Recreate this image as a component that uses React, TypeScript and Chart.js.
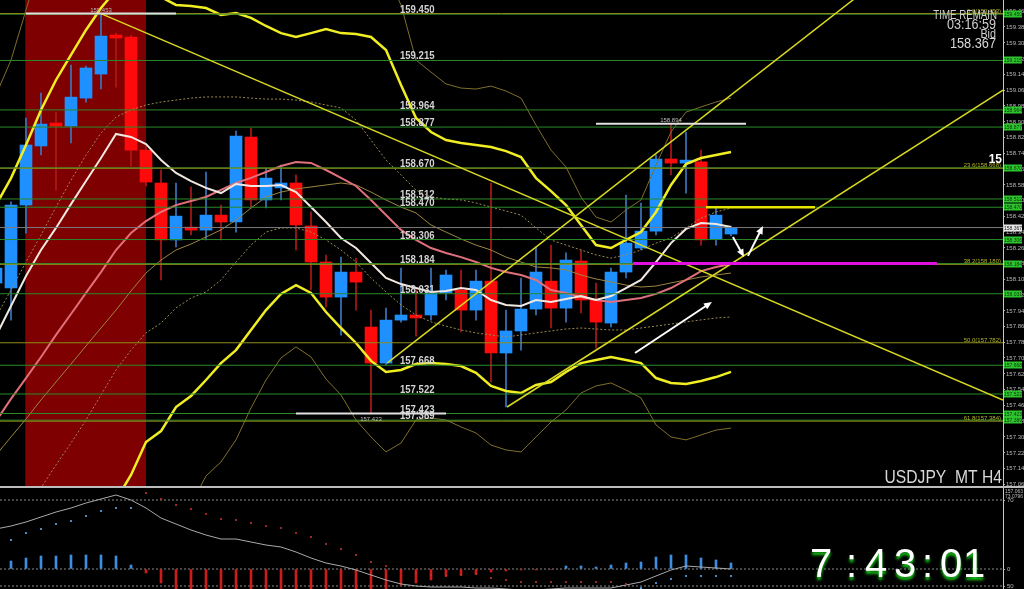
import React, { useEffect, useRef } from 'react';
import { Chart, registerables } from 'chart.js';

Chart.register(...registerables);

// ---------------- data (bar index starts at -1) ----------------
const FIRST_BAR = -1;

const opens = [158.085, 158.060, 158.481, 158.781, 158.892, 158.882, 159.024, 159.146, 159.339, 159.334, 158.760, 158.593, 158.304, 158.364, 158.354, 158.430, 158.395, 158.826, 158.507, 158.568, 158.593, 158.375, 158.192, 158.014, 158.141, 157.862, 157.679, 157.897, 157.918, 157.923, 158.035, 158.050, 157.948, 158.095, 157.730, 157.842, 157.953, 158.095, 157.958, 158.197, 157.999, 157.882, 158.141, 158.263, 158.349, 158.715, 158.694, 158.700, 158.309, 158.334];
const highs = [158.192, 158.497, 158.923, 159.050, 158.953, 159.192, 159.187, 159.453, 159.354, 159.344, 158.781, 158.659, 158.593, 158.573, 158.649, 158.481, 158.857, 158.872, 158.669, 158.684, 158.634, 158.446, 158.227, 158.217, 158.212, 157.948, 157.958, 158.161, 158.050, 158.161, 158.151, 158.151, 158.151, 158.593, 157.948, 158.111, 158.268, 158.278, 158.238, 158.253, 158.085, 158.161, 158.532, 158.491, 158.735, 158.894, 158.852, 158.760, 158.466, 158.375];
const lows = [158.050, 157.897, 158.339, 158.735, 158.557, 158.796, 159.004, 159.070, 159.080, 158.679, 158.578, 158.101, 158.268, 158.329, 158.304, 158.304, 158.344, 158.466, 158.466, 158.507, 158.253, 158.050, 157.963, 157.821, 157.948, 157.423, 157.669, 157.887, 157.816, 157.897, 157.999, 157.837, 157.897, 157.583, 157.456, 157.745, 157.923, 157.857, 157.887, 157.933, 157.755, 157.862, 158.111, 158.253, 158.329, 158.634, 158.542, 158.278, 158.278, 158.324];
const closes = [158.161, 158.481, 158.786, 158.892, 158.882, 159.029, 159.177, 159.339, 159.329, 158.760, 158.598, 158.304, 158.425, 158.354, 158.430, 158.395, 158.831, 158.507, 158.618, 158.593, 158.380, 158.192, 158.014, 158.141, 158.090, 157.679, 157.897, 157.923, 157.908, 158.035, 158.126, 157.948, 158.095, 157.730, 157.842, 157.953, 158.141, 157.958, 158.202, 157.999, 157.887, 158.141, 158.288, 158.349, 158.715, 158.694, 158.705, 158.304, 158.430, 158.367];

const maFast = [157.816, 157.969, 158.121, 158.253, 158.365, 158.486, 158.603, 158.720, 158.842, 158.827, 158.791, 158.710, 158.644, 158.603, 158.568, 158.542, 158.588, 158.578, 158.578, 158.583, 158.547, 158.471, 158.395, 158.314, 158.263, 158.187, 158.111, 158.080, 158.060, 158.040, 158.045, 158.060, 158.050, 157.999, 157.974, 157.969, 157.999, 157.989, 158.004, 158.019, 157.999, 158.019, 158.060, 158.101, 158.192, 158.288, 158.360, 158.390, 158.385, 158.370];
const maSlow = [157.385, 157.497, 157.603, 157.710, 157.822, 157.928, 158.035, 158.141, 158.253, 158.339, 158.400, 158.446, 158.481, 158.502, 158.522, 158.558, 158.593, 158.619, 158.649, 158.679, 158.700, 158.695, 158.659, 158.619, 158.578, 158.507, 158.431, 158.355, 158.304, 158.263, 158.238, 158.217, 158.192, 158.162, 158.141, 158.126, 158.101, 158.050, 158.035, 158.014, 157.999, 157.989, 157.999, 158.009, 158.030, 158.060, 158.101, 158.146, 158.167, 158.182];
const maTrend = [157.212, 157.304, 157.395, 157.492, 157.583, 157.674, 157.766, 157.857, 157.948, 158.045, 158.136, 158.202, 158.253, 158.283, 158.319, 158.355, 158.405, 158.466, 158.522, 158.547, 158.563, 158.573, 158.583, 158.593, 158.583, 158.547, 158.507, 158.471, 158.441, 158.380, 158.344, 158.309, 158.278, 158.253, 158.217, 158.192, 158.167, 158.162, 158.152, 158.126, 158.106, 158.091, 158.075, 158.065, 158.070, 158.086, 158.101, 158.116, 158.126, 158.136];
const bandUpper = [158.481, 158.618, 158.786, 158.964, 159.116, 159.243, 159.370, 159.481, 159.573, 159.624, 159.598, 159.537, 159.497, 159.491, 159.481, 159.446, 159.456, 159.431, 159.390, 159.354, 159.334, 159.354, 159.375, 159.354, 159.349, 159.334, 159.268, 159.090, 158.923, 158.852, 158.811, 158.796, 158.786, 158.776, 158.755, 158.725, 158.618, 158.552, 158.481, 158.380, 158.278, 158.263, 158.304, 158.344, 158.446, 158.583, 158.689, 158.720, 158.735, 158.750];
const bandLower = [156.273, 156.375, 156.476, 156.578, 156.679, 156.756, 156.832, 156.908, 156.984, 157.111, 157.278, 157.334, 157.456, 157.512, 157.593, 157.679, 157.745, 157.847, 157.948, 158.030, 158.075, 158.035, 157.938, 157.857, 157.781, 157.690, 157.634, 157.644, 157.674, 157.679, 157.674, 157.664, 157.629, 157.563, 157.537, 157.527, 157.568, 157.583, 157.634, 157.679, 157.695, 157.710, 157.695, 157.679, 157.603, 157.578, 157.573, 157.588, 157.608, 157.634];
const envUpper = [159.040, 159.217, 159.471, 159.725, 159.95, 160.05, 160.12, 160.18, 160.20, 160.15, 160.10, 160.05, 160.00, 159.98, 159.97, 159.98, 159.96, 159.93, 159.90, 159.88, 159.87, 159.88, 159.86, 159.84, 159.80, 159.75, 159.66, 159.497, 159.217, 159.156, 159.096, 159.075, 159.070, 159.085, 159.060, 159.024, 158.887, 158.760, 158.674, 158.522, 158.420, 158.395, 158.456, 158.507, 158.684, 158.852, 158.953, 158.979, 159.004, 159.024];
const envLower = [155.969, 156.020, 156.070, 156.121, 156.172, 156.223, 156.273, 156.375, 156.476, 156.578, 156.654, 156.730, 156.781, 156.959, 157.106, 157.177, 157.289, 157.451, 157.593, 157.705, 157.761, 157.710, 157.598, 157.517, 157.390, 157.304, 157.228, 157.273, 157.390, 157.400, 157.390, 157.355, 157.324, 157.263, 157.238, 157.228, 157.304, 157.380, 157.441, 157.527, 157.563, 157.578, 157.542, 157.502, 157.365, 157.304, 157.289, 157.314, 157.339, 157.349];
const dotUpper = [157.913, 158.050, 158.192, 158.329, 158.471, 158.608, 158.735, 158.847, 158.928, 158.964, 158.989, 159.004, 159.014, 159.024, 159.030, 159.030, 159.030, 159.024, 159.019, 159.019, 159.014, 159.004, 158.989, 158.974, 158.913, 158.811, 158.710, 158.634, 158.557, 158.522, 158.512, 158.507, 158.492, 158.471, 158.451, 158.430, 158.365, 158.304, 158.278, 158.253, 158.228, 158.212, 158.228, 158.253, 158.288, 158.314, 158.365, 158.415, 158.446, 158.466];
const dotLower = [156.679, 156.832, 156.933, 157.045, 157.162, 157.273, 157.390, 157.517, 157.644, 157.745, 157.832, 157.882, 157.959, 158.009, 158.040, 158.101, 158.192, 158.278, 158.344, 158.365, 158.365, 158.344, 158.304, 158.253, 158.192, 158.111, 158.040, 157.974, 157.923, 157.888, 157.867, 157.847, 157.832, 157.822, 157.811, 157.822, 157.832, 157.842, 157.852, 157.857, 157.852, 157.847, 157.847, 157.857, 157.867, 157.877, 157.888, 157.898, 157.908, 157.913];

const histValues = [0.06, 0.08, 0.11, 0.13, 0.13, 0.14, 0.14, 0.14, 0.13, 0.04, -0.04, -0.14, -0.22, -0.25, -0.26, -0.27, -0.26, -0.25, -0.25, -0.24, -0.24, -0.25, -0.26, -0.25, -0.24, -0.24, -0.22, -0.16, -0.14, -0.11, -0.07, -0.06, -0.05, -0.03, -0.02, -0.01, -0.01, -0.005, 0.03, 0.03, 0.02, 0.04, 0.06, 0.07, 0.12, 0.14, 0.14, 0.11, 0.09, 0.06];
const signalValues = [0.40, 0.43, 0.47, 0.52, 0.57, 0.61, 0.66, 0.70, 0.74, 0.69, 0.61, 0.51, 0.45, 0.39, 0.34, 0.30, 0.30, 0.27, 0.24, 0.22, 0.17, 0.11, 0.06, 0.03, -0.01, -0.06, -0.11, -0.15, -0.17, -0.18, -0.18, -0.18, -0.19, -0.19, -0.20, -0.21, -0.21, -0.20, -0.19, -0.19, -0.19, -0.19, -0.16, -0.13, -0.07, -0.01, 0.03, 0.02, 0.01, 0.00];
const dotsUp = [null, 0.29, 0.36, 0.40, 0.45, 0.48, 0.53, 0.58, 0.61, 0.61, null, null, null, null, null, null, null, null, null, null, null, null, null, null, null, null, null, null, null, null, null, null, null, null, null, null, null, null, null, null, null, null, null, -0.19, -0.14, -0.10, -0.07, -0.07, -0.07, -0.07];
const dotsDown = [null, null, null, null, null, null, null, null, null, null, 0.76, 0.70, 0.64, 0.60, 0.55, 0.50, 0.49, 0.46, 0.43, 0.41, 0.36, 0.32, 0.25, 0.20, 0.14, 0.07, 0.03, -0.01, -0.04, -0.06, -0.07, -0.06, -0.05, -0.09, -0.11, -0.13, -0.13, -0.13, -0.13, -0.13, -0.13, -0.13, -0.15, null, null, null, null, null, null, null];

const PRICE_TICKS = [157.065, 157.145, 157.225, 157.305, 157.385, 157.465, 157.545, 157.625, 157.705, 157.785, 157.865, 157.945, 158.025, 158.105, 158.185, 158.265, 158.345, 158.425, 158.505, 158.585, 158.665, 158.745, 158.825, 158.905, 158.985, 159.065, 159.145, 159.225, 159.305, 159.385, 159.465];
const LEVELS = [159.450, 159.215, 158.964, 158.877, 158.670, 158.512, 158.470, 158.306, 158.184, 158.031, 157.668, 157.522, 157.423, 157.389];
const FIB_LEVELS = [159.453, 158.668, 158.180, 157.782, 157.384];
const FIB_NAMES = ['0.0', '23.6', '38.2', '50.0', '61.8'];
const BID = 158.367;
const HIGHLIGHT_BARS = [0.95, 9.0];
const EXTREMES = [
  { bar: 6, price: 159.453, below: false },
  { bar: 24, price: 157.423, below: true },
  { bar: 44, price: 158.894, below: false },
];
const TRENDLINES = [
  [6, 159.453, 66.13, 157.491],
  [25.07, 157.679, 57, 159.574],
  [33.07, 157.456, 66.13, 159.065],
];
const MAGENTA_SEG = [41.47, 61.73, 158.184];
const YELLOW_SEG = [46.33, 53.6, 158.470];
const ARROWS = [
  [41.6, 157.730, 46.73, 157.989],
  [48.13, 158.319, 48.87, 158.217],
  [49.13, 158.223, 50.13, 158.375],
];
const LABEL_BAR = 25.93;
const SUB_TICKS = [0.69, 0, -0.17];
const SUB_TICK_LABELS = ['70', '0', '50'];

const X_MIN = -0.733;
const X_MAX = 66.133;
const Y_MIN = 157.055;
const Y_MAX = 159.522;
const SUB_MIN = -0.20;
const SUB_MAX = 0.81;

// ---------------- helpers ----------------
const FONT = '"Liberation Sans", Arial, sans-serif';
const bars = opens.map((_, k) => k + FIRST_BAR);
const pts = (arr: any[]) => arr.map((v, k) => ({ x: bars[k], y: v }));

function drawText(ctx: any, s: string, x: number, y: number, size: number, color: string, align: string, opts: any = {}) {
  ctx.save();
  ctx.font = `${opts.bold ? 'bold ' : ''}${size}px ${FONT}`;
  ctx.fillStyle = color;
  ctx.textAlign = align;
  ctx.textBaseline = 'alphabetic';
  if (opts.shadow) {
    ctx.shadowColor = opts.shadow;
    ctx.shadowBlur = 3;
    ctx.shadowOffsetY = 3;
  }
  ctx.translate(x, y);
  ctx.scale(opts.sx ?? 1, 1);
  ctx.fillText(s, 0, 0);
  ctx.restore();
}

function drawArrow(ctx: any, x0: number, y0: number, x1: number, y1: number) {
  const a = Math.atan2(y1 - y0, x1 - x0);
  const c = Math.cos(a), s = Math.sin(a);
  ctx.beginPath();
  ctx.moveTo(x0, y0);
  ctx.lineTo(x1 - 5 * c, y1 - 5 * s);
  ctx.stroke();
  ctx.beginPath();
  ctx.moveTo(x1, y1);
  ctx.lineTo(x1 - 8 * c + 3.5 * s, y1 - 8 * s - 3.5 * c);
  ctx.lineTo(x1 - 8 * c - 3.5 * s, y1 - 8 * s + 3.5 * c);
  ctx.closePath();
  ctx.fill();
}

const lineDs = (data: any[], color: string, width: number, order: number, extra: any = {}) => ({
  type: 'line',
  data,
  borderColor: color,
  borderWidth: width,
  pointRadius: 0,
  tension: 0,
  fill: false,
  order,
  ...extra,
});

const yAxis = (min: number, max: number, values: number[]) => ({
  type: 'linear',
  position: 'right',
  min,
  max,
  afterBuildTicks: (s: any) => { s.ticks = values.map((v) => ({ value: v })); },
  afterFit: (s: any) => { s.width = 21; },
  ticks: { display: false },
  grid: { display: true, drawOnChartArea: false, drawTicks: true, tickLength: 2, color: '#aaaaaa' },
  border: { display: true, color: '#c8c8c8', width: 1 },
});

const baseOptions = (yScale: any) => ({
  responsive: false,
  animation: false,
  devicePixelRatio: 1,
  events: [],
  layout: { padding: 0, autoPadding: false },
  plugins: { legend: { display: false }, tooltip: { enabled: false } },
  scales: {
    x: { type: 'linear', min: X_MIN, max: X_MAX, offset: false, display: false },
    y: yScale,
  },
});

const mainPlugin = {
  id: 'mainDeco',
  beforeDatasetsDraw(chart: any) {
    const { ctx, chartArea, scales } = chart;
    const x0 = scales.x.getPixelForValue(HIGHLIGHT_BARS[0]);
    const x1 = scales.x.getPixelForValue(HIGHLIGHT_BARS[1]);
    ctx.save();
    ctx.fillStyle = '#7f0000';
    ctx.fillRect(x0, chartArea.top, x1 - x0, chartArea.bottom - chartArea.top);
    ctx.restore();
  },
  afterDatasetsDraw(chart: any) {
    const { ctx, chartArea, scales } = chart;
    const xs = scales.x, ys = scales.y;
    EXTREMES.forEach((e) => {
      const px = xs.getPixelForValue(e.bar);
      const py = ys.getPixelForValue(e.price);
      drawText(ctx, e.price.toFixed(3), px, e.below ? py + 7 : py - 2, 6, '#bdbdbd', 'center');
    });
    LEVELS.forEach((p) => {
      const py = ys.getPixelForValue(p);
      drawText(ctx, p.toFixed(3), xs.getPixelForValue(LABEL_BAR), py - 1, 11, '#d4d4d4', 'left', { bold: true, sx: 0.87 });
    });
    FIB_LEVELS.forEach((p, i) => {
      const py = ys.getPixelForValue(p);
      drawText(ctx, `${FIB_NAMES[i]}(${p.toFixed(3)})`, chartArea.right - 2, py - 1, 6, '#b4b428', 'right');
    });
    ctx.save();
    ctx.strokeStyle = '#ffffff';
    ctx.fillStyle = '#ffffff';
    ctx.lineWidth = 2;
    ARROWS.forEach((a) => {
      drawArrow(ctx, xs.getPixelForValue(a[0]), ys.getPixelForValue(a[1]), xs.getPixelForValue(a[2]), ys.getPixelForValue(a[3]));
    });
    ctx.restore();
  },
  afterDraw(chart: any) {
    const { ctx, chartArea, scales } = chart;
    const ys = scales.y;
    const bx = chartArea.right + 1;
    PRICE_TICKS.forEach((v) => {
      drawText(ctx, v.toFixed(3), chartArea.right + 3, ys.getPixelForValue(v) + 2, 6, '#b8b8b8', 'left');
    });
    LEVELS.forEach((p) => {
      const py = Math.round(ys.getPixelForValue(p));
      ctx.fillStyle = '#2fc42f';
      ctx.fillRect(bx, py - 3.5, 18, 7);
      drawText(ctx, p.toFixed(3), bx + 9, py + 2, 5, '#063806', 'center');
    });
    const by = Math.round(ys.getPixelForValue(BID));
    ctx.fillStyle = '#e6e6e6';
    ctx.fillRect(bx, by - 3.5, 18, 7);
    drawText(ctx, BID.toFixed(3), bx + 9, by + 2, 5, '#222', 'center');

    drawText(ctx, 'TIME REMAIN', 997, 19, 12, '#cfcfcf', 'right', { sx: 0.81 });
    drawText(ctx, '03:16:59', 996, 29, 14, '#cfcfcf', 'right', { sx: 0.9 });
    drawText(ctx, 'Bid', 996, 38, 12, '#cfcfcf', 'right', { sx: 0.9 });
    drawText(ctx, '158.367', 996, 48, 15, '#d8d8d8', 'right', { sx: 0.85 });
    drawText(ctx, '15', 1002, 163, 12, '#ffffff', 'right', { bold: true });
    drawText(ctx, 'USDJPY_MT H4', 1002, 483, 18, '#d8d8d8', 'right', { sx: 0.87 });
  },
};

const CLOCK_GLYPHS: any[] = [['7', 810], [':', 846], ['4', 865], ['3', 894], [':', 922], ['0', 940], ['1', 963]];

const subPlugin = {
  id: 'subDeco',
  afterDraw(chart: any) {
    const { ctx, chartArea, scales } = chart;
    SUB_TICKS.forEach((v, i) => {
      drawText(ctx, SUB_TICK_LABELS[i], chartArea.right + 4, scales.y.getPixelForValue(v) + 2, 6, '#b8b8b8', 'left');
    });
    CLOCK_GLYPHS.forEach(([g, x]) => drawText(ctx, g, x, 89, 40, '#ffffff', 'left', { shadow: '#19d219' }));
    drawText(ctx, '157.063', chartArea.right + 2, 5, 5, '#bbbbbb', 'left');
    drawText(ctx, '73.0796', chartArea.right + 2, 10, 5, '#bbbbbb', 'left');
  },
};

export default function App() {
  const mainRef = useRef<HTMLCanvasElement | null>(null);
  const subRef = useRef<HTMLCanvasElement | null>(null);

  useEffect(() => {
    const up = (k: number) => closes[k] >= opens[k];
    const bodyColors = opens.map((_, k) => (up(k) ? '#1e90ff' : '#ff0a0a'));
    const wickColors = opens.map((_, k) => (up(k) ? '#3a78c0' : '#b01818'));

    const datasets: any[] = [
      {
        type: 'bar',
        data: lows.map((l, k) => ({ x: bars[k], y: [l, highs[k]] })),
        backgroundColor: wickColors,
        barThickness: 1,
        grouped: false,
        borderWidth: 0,
        order: 100,
      },
      {
        type: 'bar',
        data: opens.map((o, k) => ({ x: bars[k], y: [o, closes[k]] })),
        backgroundColor: bodyColors,
        barThickness: 12,
        minBarLength: 3,
        grouped: false,
        borderWidth: 0,
        order: 90,
      },
      lineDs(pts(envUpper), '#7e6f2c', 1, 60),
      lineDs(pts(envLower), '#7e6f2c', 1, 60),
      lineDs(pts(dotUpper), '#9a8a50', 1, 60, { borderDash: [2, 2] }),
      lineDs(pts(dotLower), '#9a8a50', 1, 60, { borderDash: [2, 2] }),
      lineDs(pts(maTrend), '#9c8540', 1, 58),
      lineDs(pts(maSlow), '#e0707a', 2, 57),
      lineDs(pts(maFast), '#f2e8e2', 2, 56),
      lineDs(pts(bandUpper), '#f0ee22', 2.5, 55),
      lineDs(pts(bandLower), '#f0ee22', 2.5, 55),
      ...LEVELS.map((p) => lineDs([{ x: X_MIN, y: p }, { x: X_MAX, y: p }], '#2a8a2a', 1, 40)),
      ...FIB_LEVELS.map((p) => lineDs([{ x: X_MIN, y: p }, { x: X_MAX, y: p }], '#8e8e1c', 1, 35)),
      lineDs([{ x: X_MIN, y: BID }, { x: X_MAX, y: BID }], '#7a7a7a', 1, 34),
      ...TRENDLINES.map((t) => lineDs([{ x: t[0], y: t[1] }, { x: t[2], y: t[3] }], '#d8d820', 1.5, 20)),
      lineDs([{ x: MAGENTA_SEG[0], y: MAGENTA_SEG[2] }, { x: MAGENTA_SEG[1], y: MAGENTA_SEG[2] }], '#e010e0', 3, 15),
      lineDs([{ x: YELLOW_SEG[0], y: YELLOW_SEG[2] }, { x: YELLOW_SEG[1], y: YELLOW_SEG[2] }], '#e6e600', 2.5, 15),
      ...EXTREMES.map((e) => lineDs([{ x: e.bar - 5, y: e.price }, { x: e.bar + 5, y: e.price }], '#e0e0e0', 2, 10)),
    ];

    const main = new Chart(mainRef.current as any, {
      type: 'bar',
      data: { datasets },
      options: baseOptions(yAxis(Y_MIN, Y_MAX, PRICE_TICKS)) as any,
      plugins: [mainPlugin],
    } as any);

    const subDatasets: any[] = [
      {
        type: 'bar',
        data: histValues.map((v, k) => ({ x: bars[k], y: v })),
        backgroundColor: histValues.map((v) => (v >= 0 ? '#3d8de0' : '#cc1c1c')),
        barThickness: 2,
        grouped: false,
        borderWidth: 0,
        order: 50,
      },
      ...SUB_TICKS.map((v) => lineDs([{ x: X_MIN, y: v }, { x: X_MAX, y: v }], '#8a8a8a', 1, 60, { borderDash: [2, 2] })),
      lineDs(pts(signalValues), '#a8a8a8', 1, 20),
      {
        type: 'line',
        data: pts(dotsUp),
        showLine: false,
        borderWidth: 0,
        pointRadius: 1.1,
        pointBorderWidth: 0,
        pointBackgroundColor: '#5aaaf0',
        order: 10,
      },
      {
        type: 'line',
        data: pts(dotsDown),
        showLine: false,
        borderWidth: 0,
        pointRadius: 1.1,
        pointBorderWidth: 0,
        pointBackgroundColor: '#c83030',
        order: 10,
      },
    ];

    const sub = new Chart(subRef.current as any, {
      type: 'bar',
      data: { datasets: subDatasets },
      options: baseOptions(yAxis(SUB_MIN, SUB_MAX, SUB_TICKS)) as any,
      plugins: [subPlugin],
    } as any);

    return () => {
      main.destroy();
      sub.destroy();
    };
  }, []);

  return (
    <div style={{ position: 'absolute', left: 0, top: 0, width: 1024, height: 589, background: '#000', overflow: 'hidden' }}>
      <canvas ref={mainRef} width={1024} height={486} style={{ position: 'absolute', left: 0, top: 0, display: 'block' }} />
      <div style={{ position: 'absolute', left: 0, top: 486, width: 1024, height: 2, background: '#bdbdbd' }} />
      <canvas ref={subRef} width={1024} height={101} style={{ position: 'absolute', left: 0, top: 488, display: 'block' }} />
    </div>
  );
}
